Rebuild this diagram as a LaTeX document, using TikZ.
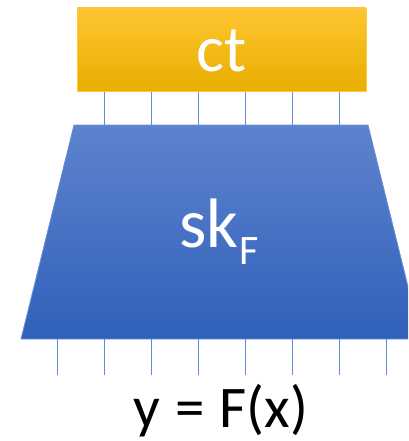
\documentclass[tikz,border=0pt]{standalone}
\usepackage{fontspec}
\setmainfont{Carlito}
\tikzset{
  wire/.style={draw={rgb,255:red,98;green,140;blue,214}, line width=1pt},
  ctbox/.style={draw={rgb,255:red,255;green,200;blue,60}, line width=0.8pt,
    top color={rgb,255:red,255;green,197;blue,50}, middle color={rgb,255:red,255;green,192;blue,0},
    bottom color={rgb,255:red,232;green,174;blue,0}},
  skshape/.style={draw={rgb,255:red,110;green,145;blue,215}, line width=0.8pt,
    top color={rgb,255:red,94;green,131;blue,205}, bottom color={rgb,255:red,48;green,96;blue,186}},
  lbl/.style={inner sep=0pt, anchor=base}
}
\begin{document}
\begin{tikzpicture}[x=1pt,y=-1pt]
\useasboundingbox (0,0) rectangle (408,441);
\clip (0,0) rectangle (408,441);
% wires above
\foreach \i/\x in {1/104,2/151,3/198,4/245,5/292,6/339} {
  \coordinate (ua\i) at (\x,91);
  \coordinate (ub\i) at (\x,125);
  \draw[wire] (ua\i) -- (ub\i);
}
% wires below
\foreach \i/\x in {1/57,2/104,3/151,4/198,5/245,6/292,7/339,8/386} {
  \coordinate (la\i) at (\x,339);
  \coordinate (lb\i) at (\x,375);
  \draw[wire] (la\i) -- (lb\i);
}
\path[ctbox] (77,8) rectangle (366,91);
\path[skshape] (74,125) -- (368,125) -- (421,339) -- (21,339) -- cycle;
\node[lbl, text=white] (ct) at (222,72) {\fontsize{66}{66}\selectfont ct};
\node[lbl, text=white] (sk) at (219,247) {\fontsize{70}{70}\selectfont sk\kern1pt\raisebox{-17pt}{\fontsize{42}{42}\selectfont F}};
\node[lbl, text=black] (y) at (221,427) {\fontsize{59}{59}\selectfont y\hspace{15pt}=\hspace{15pt}F(x)};
\end{tikzpicture}
\end{document}
